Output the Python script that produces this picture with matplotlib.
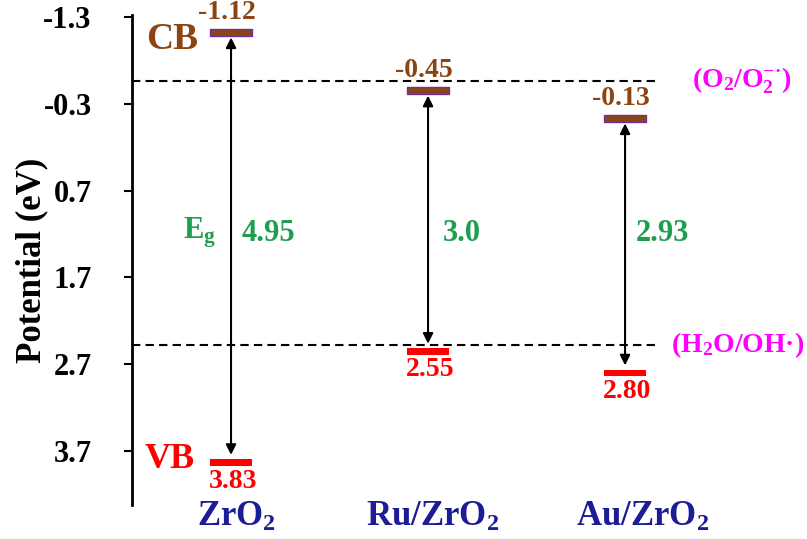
import matplotlib
matplotlib.use("Agg")
import matplotlib.pyplot as plt
import matplotlib.transforms as mtransforms

plt.rcParams['font.family'] = 'Liberation Serif'
plt.rcParams['font.weight'] = 'bold'
plt.rcParams['axes.labelweight'] = 'bold'
plt.rcParams['mathtext.fontset'] = 'custom'
plt.rcParams['mathtext.rm'] = 'Liberation Serif:bold'
plt.rcParams['mathtext.it'] = 'Liberation Serif:bold'
plt.rcParams['mathtext.bf'] = 'Liberation Serif:bold'

# data
materials = ['ZrO$_2$', 'Ru/ZrO$_2$', 'Au/ZrO$_2$']
cb = [-1.12, -0.45, -0.13]
vb = [3.83, 2.55, 2.80]
cb_labels = ['-1.12', '-0.45', '-0.13']
vb_labels = ['3.83', '2.55', '2.80']
eg_labels = ['4.95', '3.0', '2.93']
redox_levels = [-0.56, 2.48]
redox_labels = ['(O$_2$/O$_2^{-\u00b7}$)', '(H$_2$O/OH\u00b7)']
yticks = [-1.3, -0.3, 0.7, 1.7, 2.7, 3.7]

BROWN = '#8B4513'
PURPLE = '#7030A0'
RED = '#FF0000'
GREEN = '#1E9E4F'
MAGENTA = '#FF00FF'
NAVY = '#1C1C96'

fig = plt.figure(figsize=(8.07, 5.39), dpi=100)
ax = fig.add_axes([0.1636, 0.063, 0.818 - 0.1636, 0.909])

xs = [1, 2, 3]
bw = 0.21
bh = 0.075
for i, x in enumerate(xs):
    ax.barh(cb[i], bw, left=x - bw / 2, height=bh, color=BROWN, edgecolor=PURPLE, linewidth=1)
    ax.barh(vb[i], bw, left=x - bw / 2, height=bh, color=RED, linewidth=0)
    ax.annotate('', xy=(x, cb[i] + bh / 2 + 0.02), xytext=(x, vb[i] - bh / 2 - 0.05),
                arrowprops=dict(arrowstyle='<|-|>', color='black', lw=1.5,
                                mutation_scale=15, shrinkA=0, shrinkB=0))
    ax.text(x - 0.02, cb[i] - 0.09, cb_labels[i], color=BROWN, fontsize=20,
            ha='center', va='bottom')
    ax.text(x + 0.01, vb[i] + 0.07, vb_labels[i], color=RED, fontsize=20,
            ha='center', va='top')

eg_x = [1.19, 2.17, 3.19]
for i, x in enumerate(eg_x):
    ax.text(x, 1.19, eg_labels[i], color=GREEN, fontsize=22, ha='center', va='center')
ax.text(0.84, 1.19, 'E$_g$', color=GREEN, fontsize=22, ha='center', va='center')

ax.text(0.70, -1.04, 'CB', color=BROWN, fontsize=27, ha='center', va='center')
ax.text(0.69, 3.79, 'VB', color=RED, fontsize=26, ha='center', va='center')

for lvl in redox_levels:
    ax.axhline(lvl, color='black', linestyle='--', lw=1.5, dashes=(4, 2.5))
redox_x = [3.59, 3.57]
for x, lvl, lab in zip(redox_x, redox_levels, redox_labels):
    ax.text(x, lvl, lab, color=MAGENTA, fontsize=20, ha='center', va='center',
            clip_on=False)

trans = mtransforms.blended_transform_factory(ax.transData, ax.transAxes)
cat_x = [1.03, 2.025, 3.09]
for x, m in zip(cat_x, materials):
    ax.text(x, -0.025, m, color=NAVY, fontsize=25, ha='center', va='center',
            transform=trans, clip_on=False)

ax.set_xlim(0.4975, 3.178)
ax.set_ylim(4.32, -1.32)
ax.set_yticks(yticks)
ax.set_yticklabels([str(t) for t in yticks])
ax.set_xticks([])
ax.tick_params(axis='y', direction='out', length=6, width=1.5, labelsize=22, pad=23)
for s in ['top', 'right', 'bottom']:
    ax.spines[s].set_visible(False)
ax.spines['left'].set_linewidth(2)
ax.set_ylabel('Potential (eV)', fontsize=25, va='center')
ax.yaxis.set_label_coords(-0.19, 0.5)

fig.savefig('out.png', dpi=100)
